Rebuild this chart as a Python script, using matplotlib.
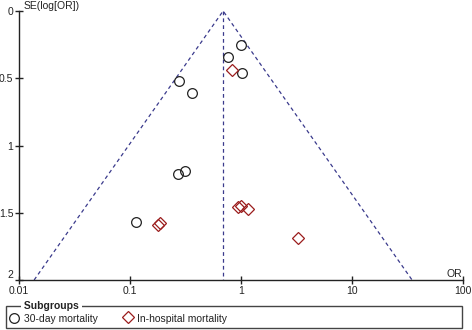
import numpy as np
import matplotlib
matplotlib.use("Agg")
import matplotlib.pyplot as plt
from matplotlib.patches import Rectangle
from matplotlib.lines import Line2D

plt.rcParams['font.family'] = ['Liberation Sans', 'DejaVu Sans']

pooled_or = 0.69
circle_or = [1.00, 0.76, 1.02, 0.276, 0.36, 0.27, 0.31, 0.113]
circle_se = [0.25, 0.34, 0.46, 0.52, 0.61, 1.21, 1.19, 1.567]
diamond_or = [0.83, 0.18, 0.187, 0.93, 1.0, 1.16, 3.26]
diamond_se = [0.44, 1.59, 1.575, 1.46, 1.45, 1.47, 1.69]
xticks = [0.01, 0.1, 1, 10, 100]
xticklabels = ['0.01', '0.1', '1', '10', '100']
yticks = [0, 0.5, 1, 1.5, 2]
yticklabels = ['0', '0.5', '1', '1.5', '2']

fig = plt.figure(figsize=(4.72, 3.30), dpi=100)
ax = fig.add_axes([19/472, 1-280/330, (463-19)/472, (280-11)/330])
ax.set_xscale('log')
ax.set_xlim(0.01, 100)
ax.set_ylim(2, 0)

line_col = '#3a3a8c'
se_max = 2.0
lo = pooled_or * np.exp(-1.96 * se_max)
hi = pooled_or * np.exp(1.96 * se_max)
ax.plot([lo, pooled_or, hi], [se_max, 0, se_max], ls=(0, (3, 2.5)), color=line_col, lw=0.9, clip_on=False)
ax.plot([pooled_or, pooled_or], [0, se_max], ls=(0, (3, 2.5)), color=line_col, lw=0.9)

ax.plot(circle_or, circle_se, 'o', ms=7, mfc='none', mec='#222222', mew=0.9, clip_on=False)
ax.plot(diamond_or, diamond_se, 'D', ms=6, mfc='none', mec='#9b1c1c', mew=0.9, clip_on=False)

for s in ['top', 'right']:
    ax.spines[s].set_visible(False)
for s in ['left', 'bottom']:
    ax.spines[s].set_linewidth(1.0)
    ax.spines[s].set_color('#222222')
ax.set_xticks(xticks)
ax.set_xticklabels(xticklabels)
ax.xaxis.set_minor_locator(matplotlib.ticker.NullLocator())
ax.set_yticks(yticks)
ax.set_yticklabels(yticklabels)
ax.tick_params(direction='inout', length=6, width=1, labelsize=7.5, colors='#222222')
ax.tick_params(axis='y', pad=1)
ax.tick_params(axis='x', pad=1.5)
ax.get_yticklabels()[-1].set_va('bottom')
ax.text(24/472, 1-6/330, 'SE(log[OR])', transform=fig.transFigure, fontsize=7.5, va='center', ha='left', color='#222222')
ax.text(454/472, 1-274/330, 'OR', transform=fig.transFigure, fontsize=7.5, va='center', ha='center', color='#222222')

# legend box
fig.patches.append(Rectangle((6/472, 1-328/330), (462-6)/472, (328-306)/330, transform=fig.transFigure,
                             fill=False, ec='#444444', lw=1.0))
fig.text(21/472, 1-306/330, ' Subgroups ', fontsize=7.5, fontweight='bold', va='center', ha='left',
         color='#222222', bbox=dict(fc='white', ec='none', pad=0))
fig.lines.append(Line2D([14/472], [1-318/330], transform=fig.transFigure, marker='o', ms=7,
                        mfc='none', mec='#222222', mew=0.9))
fig.text(24/472, 1-319/330, '30-day mortality', fontsize=7.5, va='center', ha='left', color='#222222')
fig.lines.append(Line2D([128/472], [1-317/330], transform=fig.transFigure, marker='D', ms=6,
                        mfc='none', mec='#9b1c1c', mew=0.9))
fig.text(137/472, 1-319/330, 'In-hospital mortality', fontsize=7.5, va='center', ha='left', color='#222222')

fig.savefig('out.png', dpi=100)
